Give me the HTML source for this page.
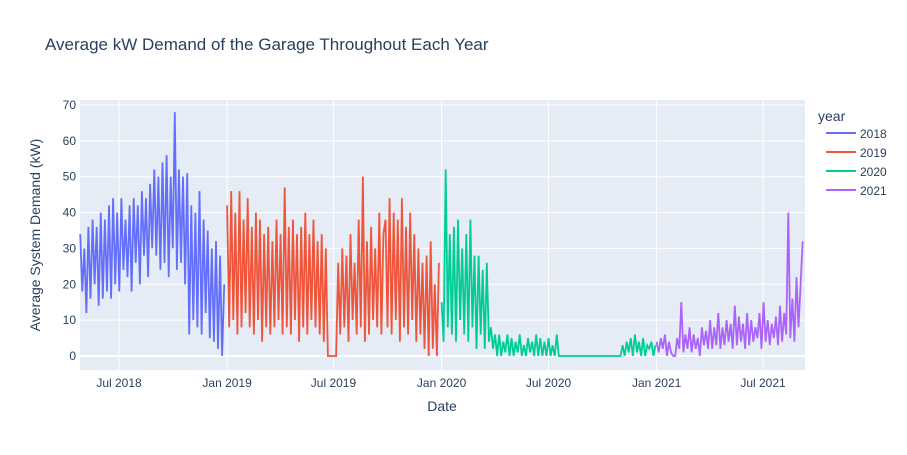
<!DOCTYPE html>
<html><head><meta charset="utf-8"><style>
body{margin:0;background:#fff;font-family:"Liberation Sans",Arial,sans-serif;}
svg text{font-family:"Liberation Sans",Arial,sans-serif;fill:#2a3f5f;}
</style></head><body>
<svg id="c" width="907" height="450">
<rect x="0" y="0" width="907" height="450" fill="#fff"/>
<text x="45" y="50" font-size="17">Average kW Demand of the Garage Throughout Each Year</text>
<rect id="plot" x="80" y="100" width="725" height="270" fill="#e5ecf6"/>
<g id="grid"></g><g id="series"></g><g id="axes"></g>
<text x="442" y="411" font-size="14" text-anchor="middle">Date</text>
<text transform="translate(40,235) rotate(-90)" font-size="14" text-anchor="middle">Average System Demand (kW)</text>
<g id="legend">
<text x="818" y="121" font-size="14">year</text>
</g>
</svg>
<script>
const years=["2018","2019","2020","2021"];
const colors=["#636efa","#EF553B","#00cc96","#ab63fa"];
const starts=["2018-04-26","2019-01-01","2020-01-01","2021-01-01"];
const stepDays=3.5;
const v2018=[34,18,30,12,36,16,38,20,36,14,40,16,38,18,42,16,44,20,40,18,44,24,38,22,42,18,44,26,42,20,46,28,44,22,48,30,52,28,50,24,54,26,56,22,50,30,68,24,52,26,50,20,51,6,42,10,40,8,46,6,38,12,35,5,30,4,32,2,28,0,20];
const v2019=[42,8,46,10,40,6,46,8,38,12,44,8,36,6,40,10,38,4,34,8,36,6,32,8,38,10,34,6,47,8,36,6,38,10,34,4,36,8,40,6,34,10,38,8,32,6,34,4,30,0,0,0,0,0,26,6,30,8,28,4,34,10,26,6,38,8,50,4,32,6,36,10,30,8,40,6,34,38,8,44,6,40,10,38,4,44,8,36,6,40,10,34,4,30,6,26,2,28,0,32,2,20,0,26];
const v2020=[15,4,52,8,34,6,36,4,38,10,30,6,34,4,38,8,28,2,28,6,24,2,26,4,8,2,6,0,6,0,4,1,6,0,5,0,4,1,6,0,3,0,5,1,4,0,6,0,5,0,4,0,5,0,3,0,6,0,0,0,0,0,0,0,0,0,0,0,0,0,0,0,0,0,0,0,0,0,0,0,0,0,0,0,0,0,0,0,3,0,4,1,5,0,6,1,4,0,5,0,3,2,4,0,3];
const v2021=[4,1,5,2,6,0,4,1,0,0,5,2,15,1,6,2,8,1,6,2,5,0,8,3,7,2,10,2,8,3,12,2,8,3,10,4,9,2,14,3,11,4,9,2,12,3,10,4,8,5,12,2,15,4,10,3,9,5,11,3,14,4,12,6,40,5,16,4,22,8,20,32];
const values=[v2018,v2019,v2020,v2021];
const xTickLabels=["Jul 2018","Jan 2019","Jul 2019","Jan 2020","Jul 2020","Jan 2021","Jul 2021"];
const xTickDates=["2018-07-01","2019-01-01","2019-07-01","2020-01-01","2020-07-01","2021-01-01","2021-07-01"];
const yTicks=[0,10,20,30,40,50,60,70];

const NS="http://www.w3.org/2000/svg";
const t0=Date.parse("2018-07-01"),t1=Date.parse("2021-07-01");
function xs(t){return 119+(t-t0)/(t1-t0)*(763-119);}
function ys(v){return 356-v*(356-105)/70;}
const grid=document.getElementById('grid'),axes=document.getElementById('axes'),ser=document.getElementById('series'),leg=document.getElementById('legend');
yTicks.forEach(v=>{
  const l=document.createElementNS(NS,'line');
  l.setAttribute('x1',80);l.setAttribute('x2',805);l.setAttribute('y1',ys(v));l.setAttribute('y2',ys(v));
  l.setAttribute('stroke','#fff');l.setAttribute('stroke-width',v===0?2:1);
  
  
  grid.appendChild(l);
  const t=document.createElementNS(NS,'text');
  t.setAttribute('x',76);t.setAttribute('y',ys(v)+4);t.setAttribute('text-anchor','end');t.setAttribute('font-size','12');
  t.textContent=v;
  
  
  axes.appendChild(t);
});
xTickDates.forEach((d,i)=>{
  const x=xs(Date.parse(d));
  const l=document.createElementNS(NS,'line');
  l.setAttribute('x1',x);l.setAttribute('x2',x);l.setAttribute('y1',100);l.setAttribute('y2',370);
  l.setAttribute('stroke','#fff');
  
  
  grid.appendChild(l);
  const t=document.createElementNS(NS,'text');
  t.setAttribute('x',x);t.setAttribute('y',387);t.setAttribute('text-anchor','middle');t.setAttribute('font-size','12');
  t.textContent=xTickLabels[i];
  
  
  axes.appendChild(t);
});
values.forEach((arr,k)=>{
  const s=Date.parse(starts[k]);
  const pts=arr.map((v,i)=>xs(s+i*stepDays*864e5).toFixed(1)+','+ys(v).toFixed(1)).join(' ');
  const p=document.createElementNS(NS,'polyline');
  p.setAttribute('points',pts);p.setAttribute('fill','none');p.setAttribute('stroke',colors[k]);p.setAttribute('stroke-width','1.8');
  
  
  ser.appendChild(p);
  const y=138+k*19;
  const l=document.createElementNS(NS,'line');
  l.setAttribute('x1',826);l.setAttribute('x2',856);l.setAttribute('y1',y-5);l.setAttribute('y2',y-5);
  l.setAttribute('stroke',colors[k]);l.setAttribute('stroke-width','2');
  
  
  leg.appendChild(l);
  const t=document.createElementNS(NS,'text');
  t.setAttribute('x',860);t.setAttribute('y',y);t.setAttribute('font-size','12');
  t.textContent=years[k];
  
  
  leg.appendChild(t);
});
</script>
</body></html>
